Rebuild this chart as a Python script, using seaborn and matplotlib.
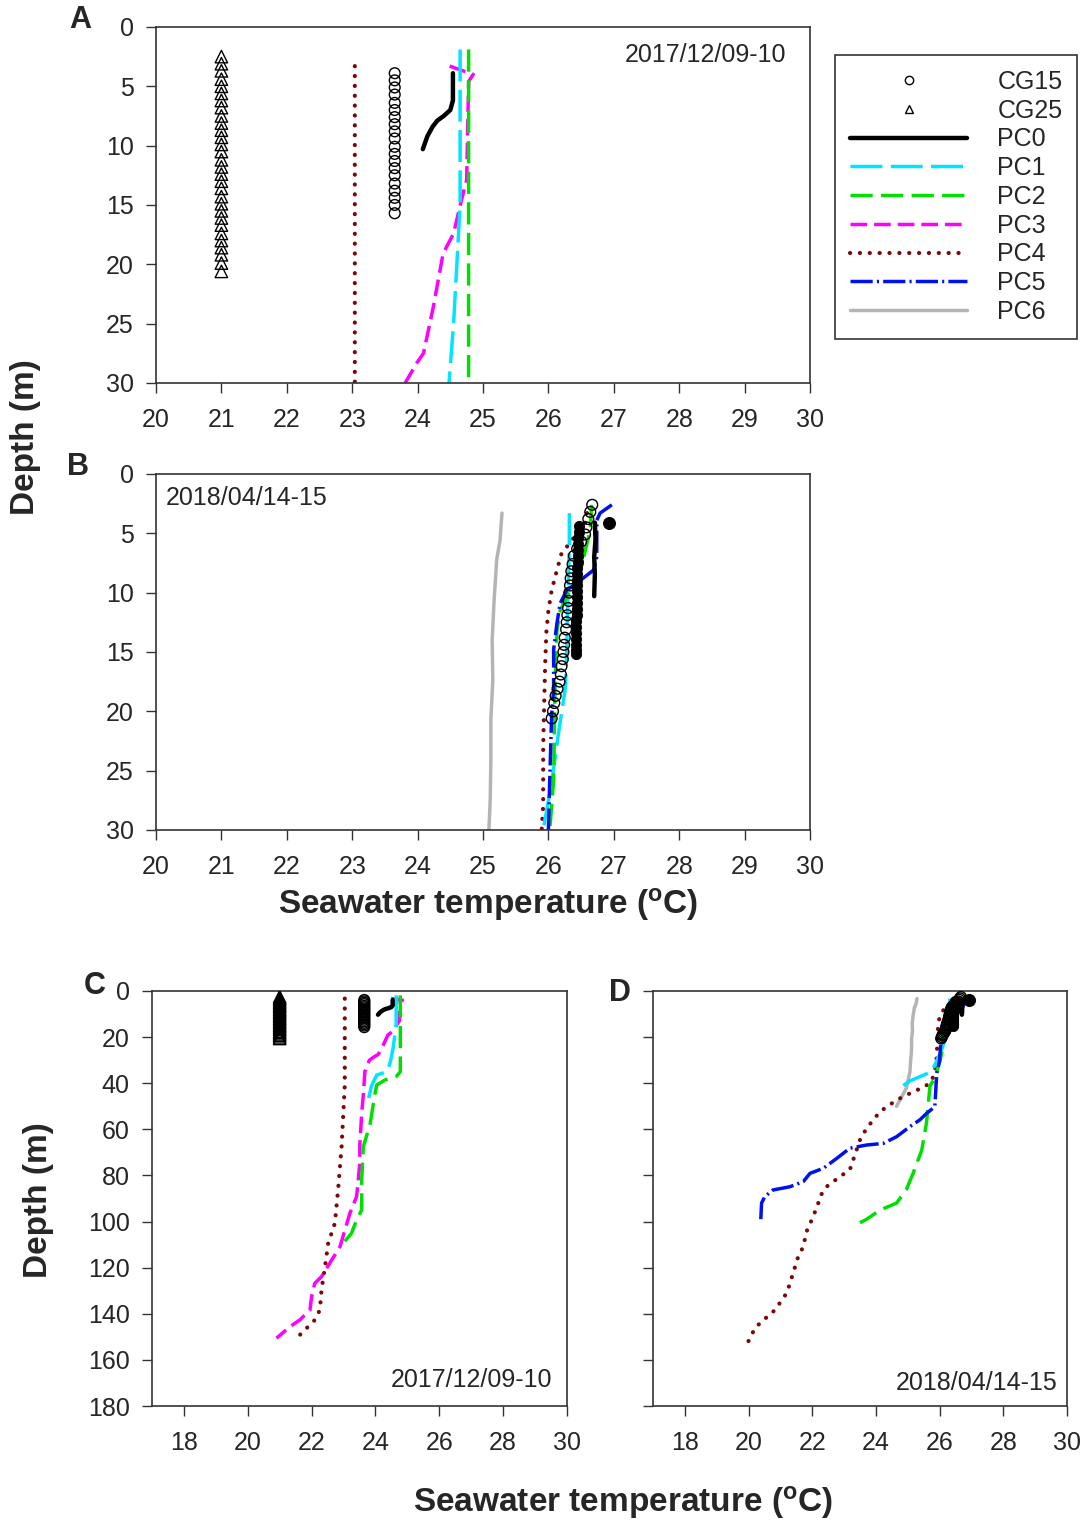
import numpy as np
import matplotlib
matplotlib.use("Agg")
import matplotlib.pyplot as plt
import seaborn as sns
from matplotlib.lines import Line2D

# ---- 2017/12/09-10 profiles (temperature degC, depth m) ----
cg15_dec_d = [3.9, 4.5, 5.1, 5.7, 6.4, 7.0, 7.6, 8.2, 8.8, 9.4, 10.1, 10.7, 11.3, 11.9, 12.5,
              13.2, 13.8, 14.4, 15.0, 15.7]
cg15_dec_t = [23.65, 23.65, 23.65, 23.65, 23.65, 23.65, 23.65, 23.65, 23.65, 23.65, 23.65,
              23.65, 23.65, 23.65, 23.65, 23.65, 23.65, 23.65, 23.65, 23.65]
cg25_dec_d = [2.5, 3.1, 3.7, 4.4, 5.0, 5.6, 6.2, 6.8, 7.5, 8.1, 8.7, 9.3, 9.9, 10.5, 11.2,
              11.8, 12.4, 13.0, 13.6, 14.3, 14.9, 15.5, 16.1, 16.7, 17.4, 18.0, 18.6, 19.2, 19.9, 20.6]
cg25_dec_t = [21.0, 21.0, 21.0, 21.0, 21.0, 21.0, 21.0, 21.0, 21.0, 21.0, 21.0, 21.0, 21.0, 21.0, 21.0,
              21.0, 21.0, 21.0, 21.0, 21.0, 21.0, 21.0, 21.0, 21.0, 21.0, 21.0, 21.0, 21.0, 21.0, 21.0]
pc0_dec_d = [3.9, 6.2, 7.0, 7.5, 7.9, 8.4, 9.2, 10.3]
pc0_dec_t = [24.54, 24.54, 24.50, 24.40, 24.30, 24.23, 24.15, 24.08]
pc1_dec_d = [1.9, 15, 20, 25, 30, 33, 35, 36.5, 41, 47]
pc1_dec_t = [24.65, 24.65, 24.60, 24.55, 24.48, 24.42, 24.35, 24.04, 23.88, 23.78]
pc2_dec_d = [1.9, 30, 35, 37, 38.6, 40.8, 45, 58, 67.5, 82, 95, 99.3, 105.1, 109.4]
pc2_dec_t = [24.78, 24.78, 24.78, 24.66, 24.30, 24.04, 23.98, 23.83, 23.62, 23.57, 23.57,
             23.41, 23.25, 22.99]
pc3_dec_d = [3.3, 4.0, 4.6, 12.9, 14.6, 17.4, 19.1, 23.6, 27.5, 28.3, 30, 35, 45, 53, 67, 74.7,
             89.2, 96.4, 110.9, 116.7, 123.9, 126.8, 132.6, 138.3, 142.7, 145.6, 150.6]
pc3_dec_t = [24.49, 24.85, 24.78, 24.75, 24.67, 24.55, 24.39, 24.24, 24.09, 23.99, 23.81, 23.67,
             23.62, 23.57, 23.51, 23.51, 23.41, 23.20, 22.89, 22.63, 22.31, 22.10, 22.00, 21.95,
             21.63, 21.32, 20.90]
pc4_dec_d = [3.3, 40.8, 67.5, 86.3, 100.7, 109.4, 119.6, 129.7, 138.3, 142.7, 149.2]
pc4_dec_t = [23.04, 23.04, 22.94, 22.83, 22.73, 22.52, 22.42, 22.31, 22.26, 22.10, 21.63]

# ---- 2018/04/14-15 profiles ----
cg15_apr_d = [2.6, 3.2, 3.8, 4.5, 5.1, 5.7, 6.3, 6.9, 7.6, 8.2, 8.8, 9.4, 10.0, 10.7, 11.3,
              11.9, 12.5, 13.1, 13.8, 14.4, 15.0, 15.6, 16.2, 16.9, 17.5, 18.1, 18.7, 19.3, 20.0, 20.6]
cg15_apr_t = [26.67, 26.64, 26.61, 26.58, 26.56, 26.50, 26.44, 26.39, 26.37, 26.35, 26.34, 26.33,
              26.32, 26.31, 26.30, 26.29, 26.28, 26.27, 26.25, 26.24, 26.23, 26.22, 26.20, 26.19,
              26.17, 26.14, 26.11, 26.09, 26.07, 26.05]
blk_apr_d = [4.4, 4.9, 5.4, 5.9, 6.4, 6.9, 7.4, 7.9, 8.4, 8.9, 9.4, 9.9, 10.4, 10.9, 11.4,
             11.9, 12.4, 12.9, 13.4, 13.9, 14.4, 14.8, 15.2]
blk_apr_t = [26.47, 26.47, 26.46, 26.46, 26.45, 26.45, 26.45, 26.44, 26.44, 26.44, 26.43, 26.43,
             26.43, 26.43, 26.43, 26.43, 26.42, 26.42, 26.42, 26.42, 26.42, 26.42, 26.42]
dot_apr_d = [4.1]
dot_apr_t = [26.93]
pc0_apr_d = [4.1, 5.5, 7.0, 8.5, 10.3]
pc0_apr_t = [26.71, 26.72, 26.70, 26.71, 26.70]
pc1_apr_d = [3.3, 6, 10, 15, 18, 22, 26, 30, 35, 39, 41]
pc1_apr_t = [26.32, 26.32, 26.30, 26.28, 26.26, 26.15, 26.05, 25.92, 25.75, 25.07, 24.86]
pc2_apr_d = [2.6, 4.7, 8.4, 9.8, 11.5, 13.2, 18.2, 25.8, 30, 38, 41, 57, 69, 79, 86, 92, 95, 99, 100.5]
pc2_apr_t = [26.66, 26.64, 26.48, 26.33, 26.18, 26.13, 26.10, 26.08, 26.02, 25.85, 25.70, 25.59,
             25.44, 25.17, 24.96, 24.65, 24.13, 23.71, 23.50]
pc4_apr_d = [3.3, 4.1, 5.8, 6.7, 8.1, 9.8, 11.5, 13.2, 16, 23, 28, 29.7, 35, 39, 41.5, 43.7, 47.3,
             52.3, 59.5, 64.6, 71.1, 77.6, 80.5, 84.9, 89.2, 92, 97.9, 104.4, 110.9, 115.2, 122.4,
             126.8, 131.1, 134, 137.6, 140.5, 142.7, 146.3, 152.1]
pc4_apr_t = [26.59, 26.56, 26.33, 26.20, 26.13, 26.05, 26.00, 25.97, 25.95, 25.92, 25.92, 25.90,
             25.85, 25.75, 25.54, 25.17, 24.65, 24.13, 23.71, 23.50, 23.34, 23.18, 22.87, 22.45,
             22.24, 22.19, 22.03, 21.82, 21.72, 21.56, 21.40, 21.30, 21.20, 21.04, 20.88, 20.67,
             20.46, 20.20, 19.99]
pc5_apr_d = [2.6, 3.3, 3.9, 7.0, 8.1, 9.0, 9.8, 10.9, 12.6, 14.8, 18.2, 20.2, 25.8, 30, 35.7, 50.2,
             53.1, 55.9, 58.8, 63.2, 66.1, 66.8, 68.2, 72.6, 76.9, 79.1, 82.7, 84.9, 86.3, 89.2, 92, 100.7]
pc5_apr_t = [26.97, 26.79, 26.74, 26.74, 26.69, 26.48, 26.28, 26.18, 26.13, 26.08, 26.08, 26.05,
             26.02, 26.00, 25.91, 25.85, 25.59, 25.38, 25.07, 24.65, 24.23, 23.71, 23.18, 22.77,
             22.35, 21.93, 21.72, 21.30, 20.77, 20.51, 20.41, 20.38]
pc6_apr_d = [3.3, 5.6, 7.2, 10.6, 14.0, 17.4, 20.7, 24.1, 27.5, 30, 35, 42, 50]
pc6_apr_t = [25.29, 25.26, 25.21, 25.17, 25.14, 25.15, 25.12, 25.12, 25.11, 25.09, 25.07, 24.96, 24.65]

# line styles (dash lengths in points)
styles = {
    "PC0": dict(color="black", linewidth=3.2, linestyle="-"),
    "PC1": dict(color="#00E5FF", linewidth=2.5, linestyle=(0, (23, 6))),
    "PC2": dict(color="#00E000", linewidth=2.5, linestyle=(0, (16, 6))),
    "PC3": dict(color="#FF00FF", linewidth=2.5, linestyle=(0, (12, 5))),
    "PC4": dict(color="#7A0A0A", linewidth=3.0, linestyle=(0, (0.1, 7)), dash_capstyle="round"),
    "PC5": dict(color="#0010F0", linewidth=2.5, linestyle=(0, (16, 3, 1.5, 3))),
    "PC6": dict(color="#B4B4B4", linewidth=2.5, linestyle="-"),
}

plt.rcParams["lines.scale_dashes"] = False
sns.set_style("ticks")
plt.rcParams["font.family"] = ["Liberation Sans", "DejaVu Sans"]
plt.rcParams["mathtext.fontset"] = "custom"
plt.rcParams["mathtext.rm"] = "Liberation Sans"
plt.rcParams["mathtext.bf"] = "Liberation Sans:bold"


def line(ax, t, d, name):
    sns.lineplot(x=t, y=d, ax=ax, sort=False, estimator=None, **styles[name])


def open_marks(ax, t, d, marker, size):
    sns.scatterplot(x=t, y=d, ax=ax, marker=marker, s=size, facecolors="none",
                    edgecolor="black", linewidth=1.0, zorder=3)


def december(ax):
    open_marks(ax, cg25_dec_t, cg25_dec_d, "^", 80)
    open_marks(ax, cg15_dec_t, cg15_dec_d, "o", 60)
    line(ax, pc4_dec_t, pc4_dec_d, "PC4")
    line(ax, pc3_dec_t, pc3_dec_d, "PC3")
    line(ax, pc1_dec_t, pc1_dec_d, "PC1")
    line(ax, pc2_dec_t, pc2_dec_d, "PC2")
    line(ax, pc0_dec_t, pc0_dec_d, "PC0")


def april(ax):
    line(ax, pc6_apr_t, pc6_apr_d, "PC6")
    line(ax, pc4_apr_t, pc4_apr_d, "PC4")
    line(ax, pc1_apr_t, pc1_apr_d, "PC1")
    line(ax, pc2_apr_t, pc2_apr_d, "PC2")
    line(ax, pc5_apr_t, pc5_apr_d, "PC5")
    sns.scatterplot(x=blk_apr_t, y=blk_apr_d, ax=ax, marker="o", s=55, color="black",
                    edgecolor="black", zorder=3)
    line(ax, pc0_apr_t, pc0_apr_d, "PC0")
    sns.scatterplot(x=dot_apr_t, y=dot_apr_d, ax=ax, marker="o", s=75, color="black",
                    edgecolor="black", zorder=3)
    open_marks(ax, cg15_apr_t, cg15_apr_d, "o", 60)


fig = plt.figure(figsize=(10.87, 15.22), dpi=100)
axA = fig.add_axes([0.1435, 0.7484, 0.6017, 0.2339])
axB = fig.add_axes([0.1435, 0.4547, 0.6017, 0.2339])
axC = fig.add_axes([0.1398, 0.0762, 0.3818, 0.2727])
axD = fig.add_axes([0.6007, 0.0762, 0.3809, 0.2727])

december(axA)
april(axB)
december(axC)
april(axD)

for ax in (axA, axB):
    ax.set_xlim(20, 30)
    ax.set_ylim(30, 0)
    ax.set_xticks(range(20, 31))
    ax.set_yticks(range(0, 31, 5))
for ax in (axC, axD):
    ax.set_xlim(17, 30)
    ax.set_ylim(180, 0)
    ax.set_xticks(range(18, 31, 2))
    ax.set_yticks(range(0, 181, 20))
axD.set_yticklabels([])

for ax in (axA, axB, axC, axD):
    ax.set_xlabel("")
    ax.set_ylabel("")
    ax.tick_params(direction="out", length=7, width=1, labelsize=18, color="#333333")
    ax.tick_params(axis="x", pad=11)
    ax.tick_params(axis="y", pad=9)
    for sp in ax.spines.values():
        sp.set_visible(True)
        sp.set_color("#333333")
        sp.set_linewidth(1.2)

axA.text(0.963, 0.921, "2017/12/09-10", transform=axA.transAxes, ha="right", va="center", fontsize=18)
axB.text(0.015, 0.933, "2018/04/14-15", transform=axB.transAxes, ha="left", va="center", fontsize=18)
axC.text(0.964, 0.063, "2017/12/09-10", transform=axC.transAxes, ha="right", va="center", fontsize=18)
axD.text(0.978, 0.055, "2018/04/14-15", transform=axD.transAxes, ha="right", va="center", fontsize=18)

for lab, x, y in [("A", 0.0736, 0.9869), ("B", 0.0718, 0.6932), ("C", 0.0874, 0.3522), ("D", 0.5704, 0.3476)]:
    fig.text(x, y, lab, fontsize=22, fontweight="bold", ha="center", va="center")

fig.text(0.023, 0.7129, "Depth (m)", rotation=90, fontsize=24, fontweight="bold", ha="center", va="center")
fig.text(0.035, 0.2116, "Depth (m)", rotation=90, fontsize=24, fontweight="bold", ha="center", va="center")
xlab = r"Seawater temperature ($\mathbf{^{o}}$C)"
fig.text(0.449, 0.4054, xlab, fontsize=24, fontweight="bold", ha="center", va="center")
fig.text(0.573, 0.0125, xlab, fontsize=24, fontweight="bold", ha="center", va="center")

handles = [
    Line2D([], [], marker="o", linestyle="none", mfc="none", mec="black", markersize=6, mew=1),
    Line2D([], [], marker="^", linestyle="none", mfc="none", mec="black", markersize=6, mew=1),
]
labels = ["CG15", "CG25"]
for name in ["PC0", "PC1", "PC2", "PC3", "PC4", "PC5", "PC6"]:
    handles.append(Line2D([], [], **styles[name]))
    labels.append(name)
leg = fig.legend(handles, labels, loc="upper left", bbox_to_anchor=(0.768, 0.9639),
                 fontsize=18, handlelength=4.7, handletextpad=1.2, labelspacing=0.19,
                 numpoints=1, fancybox=False, framealpha=1, edgecolor="#333333",
                 borderpad=0.6, borderaxespad=0)
leg.get_frame().set_linewidth(1.2)

fig.savefig("out.png", dpi=100)
